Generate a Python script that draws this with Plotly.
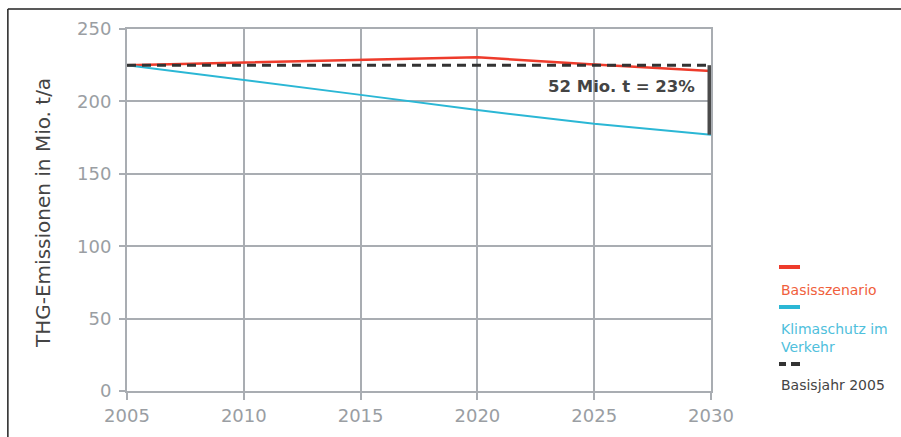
import plotly.graph_objects as go

years = [2005, 2010, 2015, 2020, 2025, 2030]
basisszenario = [225, 227, 229, 230.5, 225.5, 221]
klimaschutz = [225, 215, 204.5, 194, 184.5, 177]
basisjahr = [225, 225, 225, 225, 225, 225]
y_ticks = [0, 50, 100, 150, 200, 250]
x_ticks = [2005, 2010, 2015, 2020, 2025, 2030]

RED = "#ee3b2b"
BLUE = "#2bb7d5"
DARK = "#333333"
GRID = "#a9adb2"
FONT = "DejaVu Sans"

fig = go.Figure()
fig.add_trace(go.Scatter(x=years, y=basisszenario, mode="lines",
                         line=dict(color=RED, width=2.5), name="Basisszenario"))
fig.add_trace(go.Scatter(x=years, y=klimaschutz, mode="lines",
                         line=dict(color=BLUE, width=2), name="Klimaschutz im Verkehr"))
fig.add_trace(go.Scatter(x=years, y=basisjahr, mode="lines",
                         line=dict(color=DARK, width=3, dash="9px,6px"), name="Basisjahr 2005"))
# difference bar (half clipped at the plot edge)
fig.add_trace(go.Scatter(x=[years[-1], years[-1]], y=[basisjahr[-1], klimaschutz[-1]], mode="lines",
                         line=dict(color="#4a4a4a", width=7), showlegend=False))

fig.add_annotation(x=2029.4, y=210, xref="x", yref="y", text="<b>52 Mio. t = 23%</b>",
                   showarrow=False, xanchor="right", yanchor="middle",
                   font=dict(family=FONT, size=16.5, color="#444444"))

# y-axis title
fig.add_annotation(x=(43 - 127) / 584, y=(391 - 213) / 362, xref="paper", yref="paper",
                   text="THG-Emissionen in Mio. t/a", textangle=-90, showarrow=False,
                   xanchor="center", yanchor="middle",
                   font=dict(family=FONT, size=20, color="#444444"))

# frame lines
fig.add_shape(type="line", xref="paper", yref="paper", x0=-0.204, x1=-0.204, y0=-0.2, y1=1.055,
              line=dict(color="#222222", width=1.5))
fig.add_shape(type="line", xref="paper", yref="paper", x0=-0.204, x1=1.4, y0=1.055, y1=1.055,
              line=dict(color="#222222", width=1.5))

# custom legend
lx0 = (779 - 127) / 584
lx1 = (800 - 127) / 584
def py(p):
    return (391 - p) / 362
fig.add_shape(type="line", xref="paper", yref="paper", x0=lx0, x1=lx1, y0=py(267), y1=py(267),
              line=dict(color=RED, width=4))
fig.add_shape(type="line", xref="paper", yref="paper", x0=lx0, x1=lx1, y0=py(307), y1=py(307),
              line=dict(color=BLUE, width=4))
fig.add_shape(type="line", xref="paper", yref="paper", x0=lx0, x1=(786 - 127) / 584, y0=py(364), y1=py(364),
              line=dict(color=DARK, width=4))
fig.add_shape(type="line", xref="paper", yref="paper", x0=(791 - 127) / 584, x1=lx1, y0=py(364), y1=py(364),
              line=dict(color=DARK, width=4))
for txt, yy, col in [("Basisszenario", 290, "#f0603c"), ("Klimaschutz im<br>Verkehr", 338, "#4fc0dc"),
                     ("Basisjahr 2005", 385, "#444444")]:
    fig.add_annotation(x=lx0, y=py(yy), xref="paper", yref="paper", text=txt, showarrow=False,
                       xanchor="left", yanchor="middle", align="left",
                       font=dict(family=FONT, size=14, color=col))

fig.update_layout(
    width=901, height=437,
    margin=dict(l=127, r=190, t=29, b=46),
    paper_bgcolor="white", plot_bgcolor="white",
    showlegend=False,
    font=dict(family=FONT),
)
fig.update_xaxes(range=[2005, 2030], tickvals=x_ticks, showgrid=True, gridcolor=GRID, gridwidth=2,
                 showline=True, mirror=True, linecolor=GRID, linewidth=2, layer="below traces",
                 ticks="outside", ticklen=7, tickwidth=2, tickcolor=GRID,
                 tickfont=dict(family=FONT, size=18, color="#9a9ea3"), zeroline=False)
fig.update_yaxes(range=[0, 250], tickvals=y_ticks, showgrid=True, gridcolor=GRID, gridwidth=2,
                 showline=True, mirror=True, linecolor=GRID, linewidth=2, layer="below traces",
                 ticks="outside", ticklen=6, tickwidth=2, tickcolor=GRID, ticklabelstandoff=4,
                 tickfont=dict(family=FONT, size=18, color="#9a9ea3"), zeroline=False)

fig.write_html("out.html")
